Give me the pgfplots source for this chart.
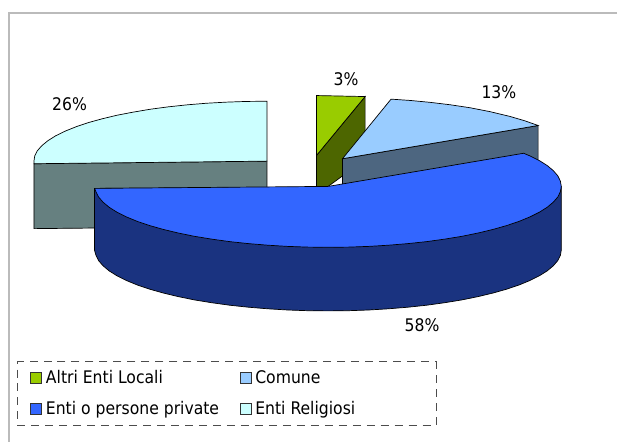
\documentclass[border=0pt]{standalone}
\usepackage{pgfplots}
\pgfplotsset{compat=1.18}
\usepackage{fontspec}
\setmainfont{DejaVu Sans Condensed}

\definecolor{altri}{HTML}{99CC00}
\definecolor{altriside}{HTML}{4D6600}
\definecolor{comune}{HTML}{99CCFF}
\definecolor{comuneside}{HTML}{4D6680}
\definecolor{privati}{HTML}{3366FF}
\definecolor{privatiside}{HTML}{1A3380}
\definecolor{religiosi}{HTML}{CCFFFF}
\definecolor{religiosiside}{HTML}{668080}
\definecolor{cornice}{HTML}{BBBBBB}

\begin{document}
\begin{tikzpicture}
\begin{axis}[
  scale only axis, width=618pt, height=443pt,
  xmin=-0.7, xmax=617.3, ymin=-0.7, ymax=442.3,
  y dir=reverse, hide axis, clip=false,
  font=\fontsize{17.4}{19}\selectfont,
  legend columns=2,
  legend cell align=left,
  legend image code/.code={\draw[solid,line width=0.7pt,#1] (0pt,-5.5pt) rectangle (11pt,5.5pt);},
  legend style={
    at={(axis cs:16.3,361.3)}, anchor=north west,
    draw=black!70, dash pattern=on 8pt off 6pt, line width=0.7pt, fill=white,
    inner xsep=13pt, inner ysep=7pt,
    row sep=12pt,
    font=\fontsize{17.4}{19}\selectfont,
  },
]
% page background, keeps the picture at full size
\addplot[draw=none, fill=white, forget plot] coordinates {(-0.7,-0.7) (617.3,-0.7) (617.3,442.3) (-0.7,442.3)} -- cycle;
% frame, only top and left
\addplot[cornice, line width=2pt, forget plot] coordinates {(617.3,12.5) (8.5,12.5) (8.5,442.3)};

% Enti Religiosi 26%
\addplot[draw=black, line width=0.7pt, fill=religiosiside, forget plot] coordinates {
  (33.3,163.3) (266.7,160.7) (266.7,226) (33.3,228.3)} -- cycle;
\addplot[draw=black, line width=0.7pt, fill=religiosi, forget plot] coordinates {
  (266.7,100.7) (246.3,100.9) (226.2,101.6) (206.3,102.7) (186.8,104.3) (168,106.3)
  (149.9,108.7) (132.8,111.6) (116.6,114.7) (101.6,118.3) (87.8,122.1) (75.4,126.3)
  (64.5,130.7) (55.1,135.3) (47.3,140.2) (41.2,145.2) (36.7,150.3) (34.1,155.5)
  (33.3,160.7) (33.3,163.3) (266.7,160.7)} -- cycle;

% Altri Enti Locali 3%
\addplot[draw=black, line width=0.7pt, fill=altriside, forget plot] coordinates {
  (316.3,155) (365,96) (365,159) (328,186) (316.3,186)} -- cycle;
\addplot[draw=black, line width=0.7pt, fill=altri, forget plot] coordinates {
  (316.3,95) (365,96) (316.3,155)} -- cycle;

% Comune 13%
\addplot[draw=black, line width=0.7pt, fill=comuneside, forget plot] coordinates {
  (342.3,158.3) (538.3,125) (538.3,188) (342.3,221)} -- cycle;
\addplot[draw=black, line width=0.7pt, fill=comune, forget plot] coordinates {
  (342.3,158.3) (391,98.6) (410,99.9) (430,101.8) (450,104.2) (470,107.2)
  (490,111.1) (510,115.9) (525,120.3) (538.3,125)} -- cycle;

% Enti o persone private 58%
\addplot[draw=black, line width=0.7pt, fill=privatiside, forget plot] coordinates {
  (94,188) (94,250) (95.4,255) (98.05,260.3) (102.5,265.5) (108.6,270.6) (116.4,275.5)
  (125.8,280.2) (136.7,284.7) (149.1,288.9) (162.9,292.8) (177.9,296.4) (194.1,299.7)
  (211.25,302.5) (229.3,305) (248.1,307) (267.6,308.6) (287.5,309.8) (307.6,310.5)
  (328,310.7) (348.4,310.5) (368.5,309.8) (388.4,308.6) (407.9,307) (426.7,305)
  (444.75,302.5) (461.9,299.7) (478.1,296.4) (493.1,292.8) (506.9,288.9) (519.3,284.7)
  (530.2,280.2) (539.6,275.5) (547.4,270.6) (553.5,265.5) (558,260.3) (560.6,255)
  (561.5,249.7) (561.5,186)} -- cycle;
\addplot[draw=black, line width=0.7pt, fill=privati, forget plot] coordinates {
  (94,188) (95.4,191.3) (98.05,196.6) (102.5,201.8) (108.6,206.9) (116.4,211.8)
  (125.8,216.5) (136.7,221) (149.1,225.2) (162.9,229.1) (177.9,232.7) (194.1,236)
  (211.25,238.8) (229.3,241.3) (248.1,243.3) (267.6,244.9) (287.5,246.1) (307.6,246.8)
  (328,247) (348.4,246.8) (368.5,246.1) (388.4,244.9) (407.9,243.3) (426.7,241.3)
  (444.75,238.8) (461.9,236) (478.1,232.7) (493.1,229.1) (506.9,225.2) (519.3,221)
  (530.2,216.5) (539.6,211.8) (547.4,206.9) (553.5,201.8) (558,196.6) (560.6,191.3)
  (561.5,186) (560.6,180.7) (558,175.4) (553.5,170.2) (547.4,165.1) (539.6,160.2)
  (530.2,155.5) (523.8,152.8) (328,186)} -- cycle;

\addlegendimage{draw=black!80, fill=altri}
\addlegendentry{\makebox[194pt][l]{\hspace{2pt}Altri Enti Locali}}
\addlegendimage{draw=black!80, fill=comune}
\addlegendentry{\makebox[168pt][l]{\hspace{2pt}Comune}}
\addlegendimage{draw=black!80, fill=privati}
\addlegendentry{\makebox[194pt][l]{\hspace{2pt}Enti o persone private}}
\addlegendimage{draw=black!80, fill=religiosi}
\addlegendentry{\makebox[168pt][l]{\hspace{2pt}Enti Religiosi}}

\node at (axis cs:346,79) {3\%};
\node at (axis cs:499,92) {13\%};
\node at (axis cs:69,104) {26\%};
\node at (axis cs:422,325) {58\%};
\end{axis}
\end{tikzpicture}
\end{document}
